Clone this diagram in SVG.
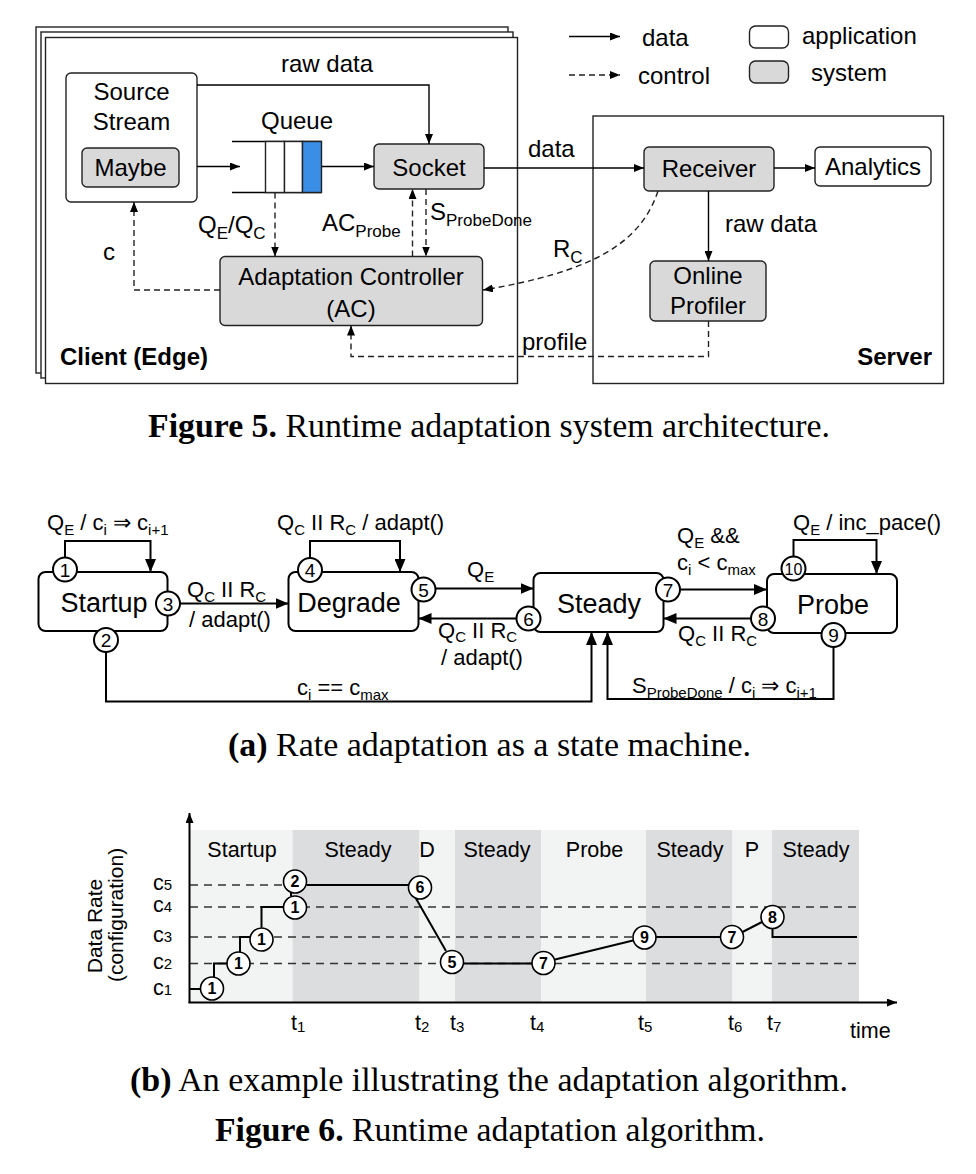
<svg xmlns="http://www.w3.org/2000/svg" width="976" height="1174" viewBox="0 0 976 1174">
<defs>
<style>
text{font-family:"Liberation Sans",Arial,sans-serif;fill:#000}
.f5{font-size:24px}
.sub5{font-size:17px}
.b{font-weight:bold}
.box{fill:#fff;stroke:#222;stroke-width:1.4}
.sys{fill:#d9d9d9;stroke:#222;stroke-width:1.4}
.frame{fill:#fff;stroke:#222;stroke-width:1.4}
.ln{fill:none;stroke:#000;stroke-width:1.4}
.dash{fill:none;stroke:#222;stroke-width:1.4;stroke-dasharray:6,4}
.st{fill:#fff;stroke:#000;stroke-width:2}
.sl{fill:none;stroke:#000;stroke-width:2}
.sc{fill:#fff;stroke:#000;stroke-width:2}
.stt{font-size:27px}
.lab{font-size:22px}
.sub{font-size:15px}
.cn{font-size:19px}
.light{fill:#f2f3f3}
.dark{fill:#dcdddf}
.grid{fill:none;stroke:#333;stroke-width:1.3;stroke-dasharray:8,6}
.dl{fill:none;stroke:#000;stroke-width:2}
.cc{fill:#fff;stroke:#000;stroke-width:1.6}
.cnum{font-size:16px;font-weight:bold}
.ch{font-size:21.5px}
.cap{font-family:"Liberation Serif","Times New Roman",serif;font-size:33px}
</style>
<marker id="ah" viewBox="0 0 10 8" refX="10" refY="4" markerWidth="10" markerHeight="8" markerUnits="userSpaceOnUse" orient="auto"><path d="M0,0 L10,4 L0,8 z" fill="#000"/></marker>
<marker id="ahb" viewBox="0 0 13 11" refX="13" refY="5.5" markerWidth="13" markerHeight="11" markerUnits="userSpaceOnUse" orient="auto"><path d="M0,0 L13,5.5 L0,11 z" fill="#000"/></marker>
</defs>
<rect width="976" height="1174" fill="#fff"/>

<!-- ===== Figure 5 ===== -->
<g id="client-frame">
<rect class="frame" x="36" y="27" width="472" height="346"/>
<rect class="frame" x="41" y="32" width="472" height="346"/>
<rect class="frame" x="45.5" y="37.5" width="472" height="346"/>
<text class="f5 b" x="60" y="365">Client (Edge)</text>
</g>
<g id="server-frame">
<rect class="frame" x="593" y="116" width="350.5" height="267.5"/>
<text class="f5 b" x="932" y="365" text-anchor="end">Server</text>
</g>
<g id="source-stream">
<rect class="box" x="66" y="73" width="131" height="129" rx="5"/>
<text class="f5" x="131.5" y="100" text-anchor="middle">Source</text>
<text class="f5" x="131.5" y="130" text-anchor="middle">Stream</text>
</g>
<g id="maybe">
<rect class="sys" x="82" y="148" width="97" height="39" rx="5"/>
<text class="f5" x="130.5" y="176" text-anchor="middle">Maybe</text>
</g>
<g id="queue">
<line class="ln" x1="232" y1="141.5" x2="321.5" y2="141.5"/>
<line class="ln" x1="232" y1="192.5" x2="321.5" y2="192.5"/>
<rect class="box" x="265.5" y="141.5" width="19" height="51"/>
<rect class="box" x="284.5" y="141.5" width="18" height="51"/>
<rect x="302.5" y="141.5" width="19" height="51" fill="#3a8ee6" stroke="#222" stroke-width="1.4"/>
<text class="f5" x="297" y="129" text-anchor="middle">Queue</text>
</g>
<g id="socket">
<rect class="sys" x="374" y="144" width="110" height="45" rx="5"/>
<text class="f5" x="429" y="175.5" text-anchor="middle">Socket</text>
</g>
<g id="adaptation-controller">
<rect class="sys" x="220" y="256.5" width="262.5" height="69" rx="5"/>
<text class="f5" x="351" y="284.5" text-anchor="middle">Adaptation Controller</text>
<text class="f5" x="351" y="317" text-anchor="middle">(AC)</text>
</g>
<g id="receiver">
<rect class="sys" x="644" y="147" width="130" height="44" rx="5"/>
<text class="f5" x="709" y="177" text-anchor="middle">Receiver</text>
</g>
<g id="analytics">
<rect class="box" x="815" y="147" width="116" height="39" rx="5"/>
<text class="f5" x="873" y="175" text-anchor="middle">Analytics</text>
</g>
<g id="online-profiler">
<rect class="sys" x="650" y="261" width="116" height="60" rx="5"/>
<text class="f5" x="708" y="284" text-anchor="middle">Online</text>
<text class="f5" x="708" y="314" text-anchor="middle">Profiler</text>
</g>
<g id="legend">
<line class="ln" x1="569" y1="36.5" x2="620" y2="36.5" marker-end="url(#ah)"/>
<text class="f5" x="642" y="46">data</text>
<line class="dash" x1="569" y1="75" x2="620" y2="75" marker-end="url(#ah)"/>
<text class="f5" x="638" y="84">control</text>
<rect class="box" x="749.5" y="26" width="39" height="22" rx="6"/>
<text class="f5" x="802" y="44">application</text>
<rect class="sys" x="749.5" y="61" width="39" height="22" rx="6"/>
<text class="f5" x="811" y="81">system</text>
</g>
<g id="fig5-connectors">
<path class="ln" d="M197,166.5 H240" marker-end="url(#ah)"/>
<path class="ln" d="M321.5,166.5 H374" marker-end="url(#ah)"/>
<path class="ln" d="M197,85 H429 V144" marker-end="url(#ah)"/>
<text class="f5" x="327" y="72" text-anchor="middle">raw data</text>
<path class="dash" d="M275,192.5 V256.5" marker-end="url(#ah)"/>
<text class="f5" x="198" y="233">Q<tspan class="sub5" dy="6">E</tspan><tspan dy="-6">/Q</tspan><tspan class="sub5" dy="6">C</tspan></text>
<path class="dash" d="M412.5,256.5 V189" marker-end="url(#ah)"/>
<path class="dash" d="M426,189 V256.5" marker-end="url(#ah)"/>
<text class="f5" x="322" y="231">AC<tspan class="sub5" dy="6">Probe</tspan></text>
<text class="f5" x="430" y="220">S<tspan class="sub5" dy="6">ProbeDone</tspan></text>
<path class="dash" d="M220,290 H134 V202" marker-end="url(#ah)"/>
<text class="f5" x="109" y="260" text-anchor="middle">c</text>
<path class="ln" d="M484,168 H644" marker-end="url(#ah)"/>
<text class="f5" x="528" y="157">data</text>
<path class="ln" d="M774,168 H815" marker-end="url(#ah)"/>
<path class="ln" d="M708.5,191 V261" marker-end="url(#ah)"/>
<text class="f5" x="725" y="232">raw data</text>
<path class="dash" d="M708.5,321 V356.5 H351 V325.5" marker-end="url(#ah)"/>
<text class="f5" x="522" y="350">profile</text>
<path class="dash" d="M658,191 C640,245 590,272 483,290" marker-end="url(#ah)"/>
<text class="f5" x="553" y="257">R<tspan class="sub5" dy="6">C</tspan></text>
</g>
<text class="cap" x="489" y="437" text-anchor="middle" textLength="682" lengthAdjust="spacingAndGlyphs"><tspan font-weight="bold">Figure 5.</tspan> Runtime adaptation system architecture.</text>

<!-- ===== Figure 6a state machine ===== -->
<g id="state-startup">
<rect class="st" x="38.5" y="572" width="129" height="59" rx="7"/>
<text class="stt" x="104" y="612" text-anchor="middle">Startup</text>
</g>
<g id="state-degrade">
<rect class="st" x="288.5" y="572" width="130" height="59" rx="7"/>
<text class="stt" x="349" y="612" text-anchor="middle">Degrade</text>
</g>
<g id="state-steady">
<rect class="st" x="533.5" y="573" width="130" height="59" rx="7"/>
<text class="stt" x="599" y="613" text-anchor="middle">Steady</text>
</g>
<g id="state-probe">
<rect class="st" x="767" y="574" width="130" height="59" rx="7"/>
<text class="stt" x="833" y="614" text-anchor="middle">Probe</text>
</g>
<g id="sm-connectors">
<path class="sl" d="M65,557.5 V541 H150.5 V572" marker-end="url(#ahb)"/>
<path class="sl" d="M310,558 V541 H400 V572" marker-end="url(#ahb)"/>
<path class="sl" d="M793.5,556.5 V540 H876.5 V574" marker-end="url(#ahb)"/>
<path class="sl" d="M180,603.5 H288.5" marker-end="url(#ahb)"/>
<path class="sl" d="M435.5,588.5 H533.5" marker-end="url(#ahb)"/>
<path class="sl" d="M516.5,618.5 H418.5" marker-end="url(#ahb)"/>
<path class="sl" d="M680,589.5 H767" marker-end="url(#ahb)"/>
<path class="sl" d="M751,618.5 H663.5" marker-end="url(#ahb)"/>
<path class="sl" d="M106,652 V701.5 H591.5 V632" marker-end="url(#ahb)"/>
<path class="sl" d="M833.5,647 V699 H607.5 V632" marker-end="url(#ahb)"/>
<text class="lab" x="47" y="530">Q<tspan class="sub" dy="5">E</tspan><tspan dy="-5"> / c</tspan><tspan class="sub" dy="5">i</tspan><tspan dy="-5"> ⇒ c</tspan><tspan class="sub" dy="5">i+1</tspan></text>
<text class="lab" x="277" y="530">Q<tspan class="sub" dy="5">C</tspan><tspan dy="-5"> II R</tspan><tspan class="sub" dy="5">C</tspan><tspan dy="-5">  / adapt()</tspan></text>
<text class="lab" x="187" y="597">Q<tspan class="sub" dy="5">C</tspan><tspan dy="-5"> II R</tspan><tspan class="sub" dy="5">C</tspan></text>
<text class="lab" x="189" y="627">/ adapt()</text>
<text class="lab" x="467" y="577">Q<tspan class="sub" dy="5">E</tspan></text>
<text class="lab" x="438" y="638">Q<tspan class="sub" dy="4">C</tspan><tspan dy="-4"> II R</tspan><tspan class="sub" dy="4">C</tspan></text>
<text class="lab" x="441" y="665">/ adapt()</text>
<text class="lab" x="677" y="543">Q<tspan class="sub" dy="5">E</tspan><tspan dy="-5"> &amp;&amp;</tspan></text>
<text class="lab" x="677" y="570">c<tspan class="sub" dy="5">i</tspan><tspan dy="-5"> &lt; c</tspan><tspan class="sub" dy="5">max</tspan></text>
<text class="lab" x="793" y="530">Q<tspan class="sub" dy="5">E</tspan><tspan dy="-5"> / inc_pace()</tspan></text>
<text class="lab" x="678" y="641">Q<tspan class="sub" dy="5">C</tspan><tspan dy="-5"> II R</tspan><tspan class="sub" dy="5">C</tspan></text>
<text class="lab" x="632" y="693">S<tspan class="sub" dy="5">ProbeDone</tspan><tspan dy="-5"> / c</tspan><tspan class="sub" dy="5">i</tspan><tspan dy="-5"> ⇒ c</tspan><tspan class="sub" dy="5">i+1</tspan></text>
<text class="lab" x="297" y="695">c<tspan class="sub" dy="5">i</tspan><tspan dy="-5"> == c</tspan><tspan class="sub" dy="5">max</tspan></text>
</g>
<g id="sm-circles">
<g id="c1"><circle class="sc" cx="65" cy="569.5" r="12"/><text class="cn" x="65" y="576.5" text-anchor="middle">1</text></g>
<g id="c2"><circle class="sc" cx="106" cy="640" r="12"/><text class="cn" x="106" y="647" text-anchor="middle">2</text></g>
<g id="c3"><circle class="sc" cx="168" cy="603.5" r="12"/><text class="cn" x="168" y="610.5" text-anchor="middle">3</text></g>
<g id="c4"><circle class="sc" cx="310" cy="570" r="12"/><text class="cn" x="310" y="577" text-anchor="middle">4</text></g>
<g id="c5"><circle class="sc" cx="423.5" cy="589.5" r="12"/><text class="cn" x="423.5" y="596.5" text-anchor="middle">5</text></g>
<g id="c6"><circle class="sc" cx="528.5" cy="618.5" r="12"/><text class="cn" x="528.5" y="625.5" text-anchor="middle">6</text></g>
<g id="c7"><circle class="sc" cx="668" cy="589.5" r="12"/><text class="cn" x="668" y="596.5" text-anchor="middle">7</text></g>
<g id="c8"><circle class="sc" cx="763" cy="618.5" r="12"/><text class="cn" x="763" y="625.5" text-anchor="middle">8</text></g>
<g id="c9"><circle class="sc" cx="833.5" cy="635" r="12"/><text class="cn" x="833.5" y="642" text-anchor="middle">9</text></g>
<g id="c10"><circle class="sc" cx="793.5" cy="568.5" r="12"/><text x="793.5" y="574.5" text-anchor="middle" font-size="16">10</text></g>
</g>
<text class="cap" x="489.5" y="756" text-anchor="middle" textLength="523" lengthAdjust="spacingAndGlyphs"><tspan font-weight="bold">(a)</tspan> Rate adaptation as a state machine.</text>

<!-- ===== Figure 6b chart ===== -->
<g id="bands">
<rect class="light" x="189" y="830" width="103.5" height="172"/>
<rect class="dark" x="292.5" y="830" width="127" height="172"/>
<rect class="light" x="419.5" y="830" width="35.5" height="172"/>
<rect class="dark" x="455" y="830" width="86" height="172"/>
<rect class="light" x="541" y="830" width="105" height="172"/>
<rect class="dark" x="646" y="830" width="86.5" height="172"/>
<rect class="light" x="732.5" y="830" width="39.5" height="172"/>
<rect class="dark" x="772" y="830" width="87" height="172"/>
<text class="ch" x="242" y="857" text-anchor="middle">Startup</text>
<text class="ch" x="358" y="857" text-anchor="middle">Steady</text>
<text class="ch" x="427" y="857" text-anchor="middle">D</text>
<text class="ch" x="497" y="857" text-anchor="middle">Steady</text>
<text class="ch" x="594.5" y="857" text-anchor="middle">Probe</text>
<text class="ch" x="690" y="857" text-anchor="middle">Steady</text>
<text class="ch" x="752" y="857" text-anchor="middle">P</text>
<text class="ch" x="816" y="857" text-anchor="middle">Steady</text>
</g>
<g id="grid">
<line class="grid" x1="190" y1="885" x2="283" y2="885"/>
<line class="grid" x1="190" y1="907" x2="859" y2="907"/>
<line class="grid" x1="190" y1="937" x2="633" y2="937"/>
<line class="grid" x1="190" y1="963.5" x2="859" y2="963.5"/>
</g>
<g id="axes">
<path class="dl" d="M189.5,1003 V813" marker-end="url(#ah)"/>
<path class="dl" d="M188.5,1002.5 H897" marker-end="url(#ah)"/>
<text class="ch" x="153" y="890">c<tspan font-size="15">5</tspan></text>
<text class="ch" x="153" y="912">c<tspan font-size="15">4</tspan></text>
<text class="ch" x="153" y="942">c<tspan font-size="15">3</tspan></text>
<text class="ch" x="153" y="969">c<tspan font-size="15">2</tspan></text>
<text class="ch" x="153" y="995">c<tspan font-size="15">1</tspan></text>
<text class="ch" x="291" y="1030">t<tspan font-size="15" dy="2">1</tspan></text>
<text class="ch" x="415" y="1030">t<tspan font-size="15" dy="2">2</tspan></text>
<text class="ch" x="450" y="1030">t<tspan font-size="15" dy="2">3</tspan></text>
<text class="ch" x="530" y="1030">t<tspan font-size="15" dy="2">4</tspan></text>
<text class="ch" x="638" y="1030">t<tspan font-size="15" dy="2">5</tspan></text>
<text class="ch" x="728" y="1030">t<tspan font-size="15" dy="2">6</tspan></text>
<text class="ch" x="767" y="1030">t<tspan font-size="15" dy="2">7</tspan></text>
<text class="ch" x="850" y="1038">time</text>
<text transform="translate(102,926) rotate(-90)" font-size="21" text-anchor="middle">Data Rate</text>
<text transform="translate(123,915) rotate(-90)" font-size="21" text-anchor="middle">(configuration)</text>
</g>
<g id="data-line">
<path class="dl" d="M189,989 H200.5"/>
<path class="dl" d="M214,977 V963.5 H227"/>
<path class="dl" d="M240,952 V937 H250"/>
<path class="dl" d="M261.5,927.5 V907 H283.5"/>
<path class="dl" d="M291,896 V892"/>
<path class="dl" d="M306.5,885 H408.5"/>
<path class="dl" d="M416,898.5 L446,951"/>
<path class="dl" d="M463.5,963.5 H532"/>
<path class="dl" d="M555,959.5 L633,940.5"/>
<path class="dl" d="M656,937 H720.5"/>
<path class="dl" d="M742.5,932 L762,922"/>
<path class="dl" d="M772.5,928.5 V937 H857"/>
</g>
<g id="chart-points">
<g><circle class="cc" cx="212" cy="988.5" r="11.5"/><text class="cnum" x="212" y="994" text-anchor="middle">1</text></g>
<g><circle class="cc" cx="238.5" cy="963.5" r="11.5"/><text class="cnum" x="238.5" y="969" text-anchor="middle">1</text></g>
<g><circle class="cc" cx="261.5" cy="939.5" r="11.5"/><text class="cnum" x="261.5" y="945" text-anchor="middle">1</text></g>
<g><circle class="cc" cx="295" cy="907.5" r="11.5"/><text class="cnum" x="295" y="913" text-anchor="middle">1</text></g>
<g><circle class="cc" cx="295" cy="881.5" r="11.5"/><text class="cnum" x="295" y="887" text-anchor="middle">2</text></g>
<g><circle class="cc" cx="420" cy="887.5" r="11.5"/><text class="cnum" x="420" y="893" text-anchor="middle">6</text></g>
<g><circle class="cc" cx="452" cy="962" r="11.5"/><text class="cnum" x="452" y="967.5" text-anchor="middle">5</text></g>
<g><circle class="cc" cx="543.5" cy="963" r="11.5"/><text class="cnum" x="543.5" y="968.5" text-anchor="middle">7</text></g>
<g><circle class="cc" cx="644.5" cy="937.5" r="11.5"/><text class="cnum" x="644.5" y="943" text-anchor="middle">9</text></g>
<g><circle class="cc" cx="732" cy="937" r="11.5"/><text class="cnum" x="732" y="942.5" text-anchor="middle">7</text></g>
<g><circle class="cc" cx="772.5" cy="917" r="11.5"/><text class="cnum" x="772.5" y="922.5" text-anchor="middle">8</text></g>
</g>
<text class="cap" x="489" y="1091" text-anchor="middle" textLength="718" lengthAdjust="spacingAndGlyphs"><tspan font-weight="bold">(b)</tspan> An example illustrating the adaptation algorithm.</text>
<text class="cap" x="490" y="1141" text-anchor="middle" textLength="550" lengthAdjust="spacingAndGlyphs"><tspan font-weight="bold">Figure 6.</tspan> Runtime adaptation algorithm.</text>
</svg>
